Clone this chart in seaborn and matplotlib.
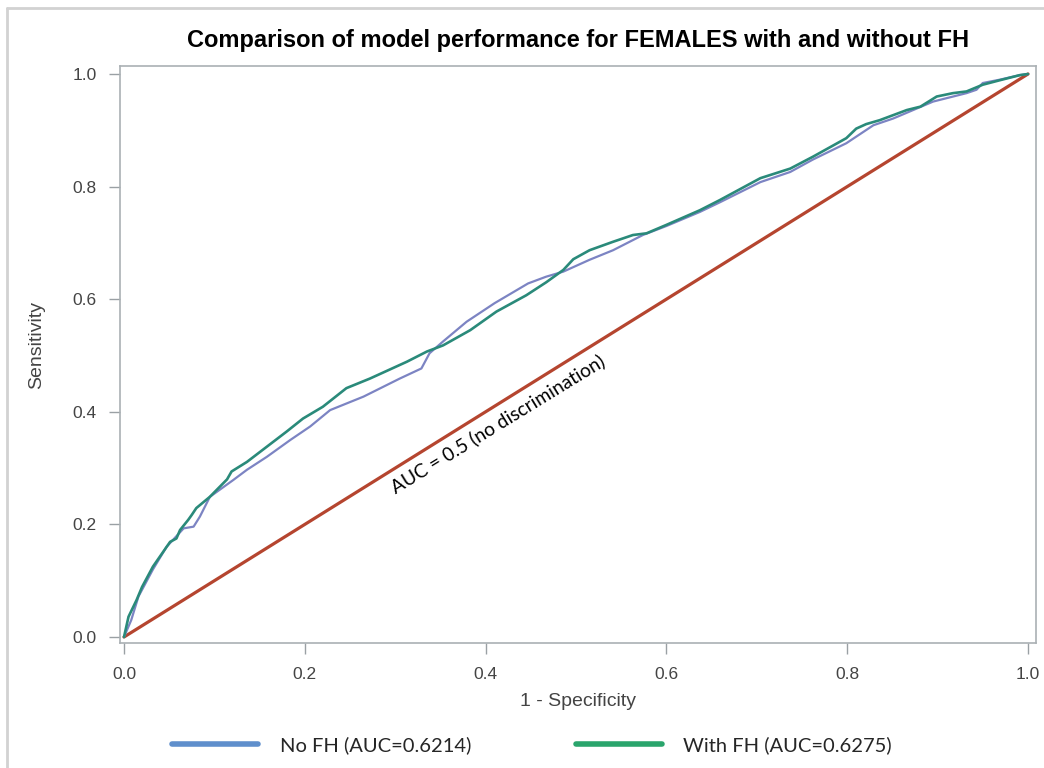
import matplotlib
matplotlib.use("Agg")
import matplotlib.pyplot as plt
from matplotlib.lines import Line2D
import seaborn as sns
import pandas as pd

# ---- data ----
nofh_fpr = [0, 0.008, 0.016, 0.032, 0.047, 0.066, 0.077, 0.084, 0.095, 0.121, 0.136,
            0.158, 0.184, 0.206, 0.228, 0.265, 0.305, 0.329, 0.338, 0.353, 0.379, 0.410,
            0.447, 0.467, 0.486, 0.515, 0.541, 0.563, 0.574, 0.600, 0.637, 0.659, 0.704,
            0.737, 0.762, 0.799, 0.829, 0.851, 0.895, 0.932, 0.943, 0.950, 0.969, 0.991, 1.0]
nofh_tpr = [0, 0.030, 0.072, 0.120, 0.160, 0.193, 0.196, 0.214, 0.249, 0.279, 0.297,
            0.320, 0.350, 0.374, 0.403, 0.427, 0.459, 0.477, 0.504, 0.525, 0.560, 0.593,
            0.628, 0.640, 0.649, 0.670, 0.687, 0.705, 0.714, 0.730, 0.755, 0.772, 0.808,
            0.826, 0.848, 0.877, 0.909, 0.921, 0.951, 0.966, 0.972, 0.984, 0.990, 0.998, 1.0]

fh_fpr = [0, 0.005, 0.014, 0.020, 0.032, 0.051, 0.058, 0.062, 0.071, 0.075, 0.080,
          0.095, 0.114, 0.119, 0.136, 0.158, 0.180, 0.198, 0.220, 0.246, 0.272, 0.313,
          0.335, 0.353, 0.383, 0.412, 0.445, 0.467, 0.486, 0.497, 0.515, 0.541, 0.563,
          0.578, 0.600, 0.637, 0.659, 0.704, 0.737, 0.762, 0.799, 0.810, 0.821, 0.836,
          0.851, 0.866, 0.881, 0.899, 0.917, 0.932, 0.950, 0.969, 0.991, 1.0]
fh_tpr = [0, 0.036, 0.066, 0.089, 0.125, 0.169, 0.175, 0.190, 0.208, 0.217, 0.229,
          0.249, 0.280, 0.294, 0.311, 0.338, 0.365, 0.388, 0.409, 0.442, 0.459, 0.489,
          0.507, 0.518, 0.545, 0.578, 0.607, 0.630, 0.652, 0.671, 0.687, 0.702, 0.714,
          0.717, 0.732, 0.758, 0.776, 0.815, 0.832, 0.853, 0.886, 0.903, 0.911, 0.918,
          0.927, 0.936, 0.942, 0.960, 0.966, 0.969, 0.981, 0.989, 0.998, 1.0]

ref_x = [0.0, 1.0]
ref_y = [0.0, 1.0]

series_labels = ["No FH (AUC=0.6214)", "With FH (AUC=0.6275)"]
title_text = "Comparison of model performance for FEMALES with and without FH"
x_label = "1 - Specificity"
y_label = "Sensitivity"
ref_label = "AUC = 0.5 (no discrimination)"
ticks = [0.0, 0.2, 0.4, 0.6, 0.8, 1.0]
tick_labels = ["0.0", "0.2", "0.4", "0.6", "0.8", "1.0"]

# ---- styling ----
sns.set_style("white")
plt.rcParams['font.family'] = ['Liberation Sans', 'DejaVu Sans']

fig = plt.figure(figsize=(10.44, 7.68), dpi=100)
ax = fig.add_axes([120/1044, 1-643/768, 916/1044, 577/768])

df_ref = pd.DataFrame({"x": ref_x, "y": ref_y})
df_nofh = pd.DataFrame({"x": nofh_fpr, "y": nofh_tpr})
df_fh = pd.DataFrame({"x": fh_fpr, "y": fh_tpr})

sns.lineplot(data=df_ref, x="x", y="y", ax=ax, color="#b5452f", lw=2.3,
             sort=False, estimator=None)
sns.lineplot(data=df_nofh, x="x", y="y", ax=ax, color="#7c84c3", lw=1.6,
             sort=False, estimator=None)
sns.lineplot(data=df_fh, x="x", y="y", ax=ax, color="#2a8a7a", lw=1.9,
             sort=False, estimator=None)

ax.set_xlim(-4/904, 1 + 8/904)
ax.set_ylim(-6/563, 1 + 8/563)
ax.set_xticks(ticks)
ax.set_xticklabels(tick_labels)
ax.set_yticks(ticks)
ax.set_yticklabels(tick_labels)
ax.tick_params(axis="both", direction="out", length=8, width=1, color="#9aa0a4",
               labelsize=12.5, labelcolor="#444444", pad=9, left=True, bottom=True)
for s in ax.spines.values():
    s.set_color("#aab0b4")
    s.set_linewidth(1.2)

ax.set_xlabel(x_label, fontsize=14, color="#444444", labelpad=8)
ax.set_ylabel(y_label, fontsize=14, color="#444444")
ax.yaxis.set_label_coords(-0.082, 0.517)
ax.set_title(title_text, fontsize=17, fontweight="bold", color="black", pad=14)

ax.text(0.414, 0.378, ref_label, rotation=31.5, rotation_mode="anchor",
        ha="center", va="center", fontsize=13.8, family=["Lato", "DejaVu Sans"],
        color="black")

handles = [Line2D([], [], color="#5f8fcc", lw=4),
           Line2D([], [], color="#2aa56c", lw=4)]
fig.legend(handles, series_labels, loc="center", bbox_to_anchor=(532/1044, 1-745/768),
           ncol=2, frameon=False, handlelength=4.3, handletextpad=1.05,
           columnspacing=5.2, prop={"family": ["Lato", "DejaVu Sans"], "size": 14.5})

# outer frame of the original graph window (cropped on right/bottom)
fig.add_artist(Line2D([7/1044, 7/1044], [0, 1-8/768], transform=fig.transFigure,
                      color="#d2d2d2", lw=2))
fig.add_artist(Line2D([7/1044, 1], [1-8/768, 1-8/768], transform=fig.transFigure,
                      color="#d2d2d2", lw=2))

fig.savefig("out.png", dpi=100)
